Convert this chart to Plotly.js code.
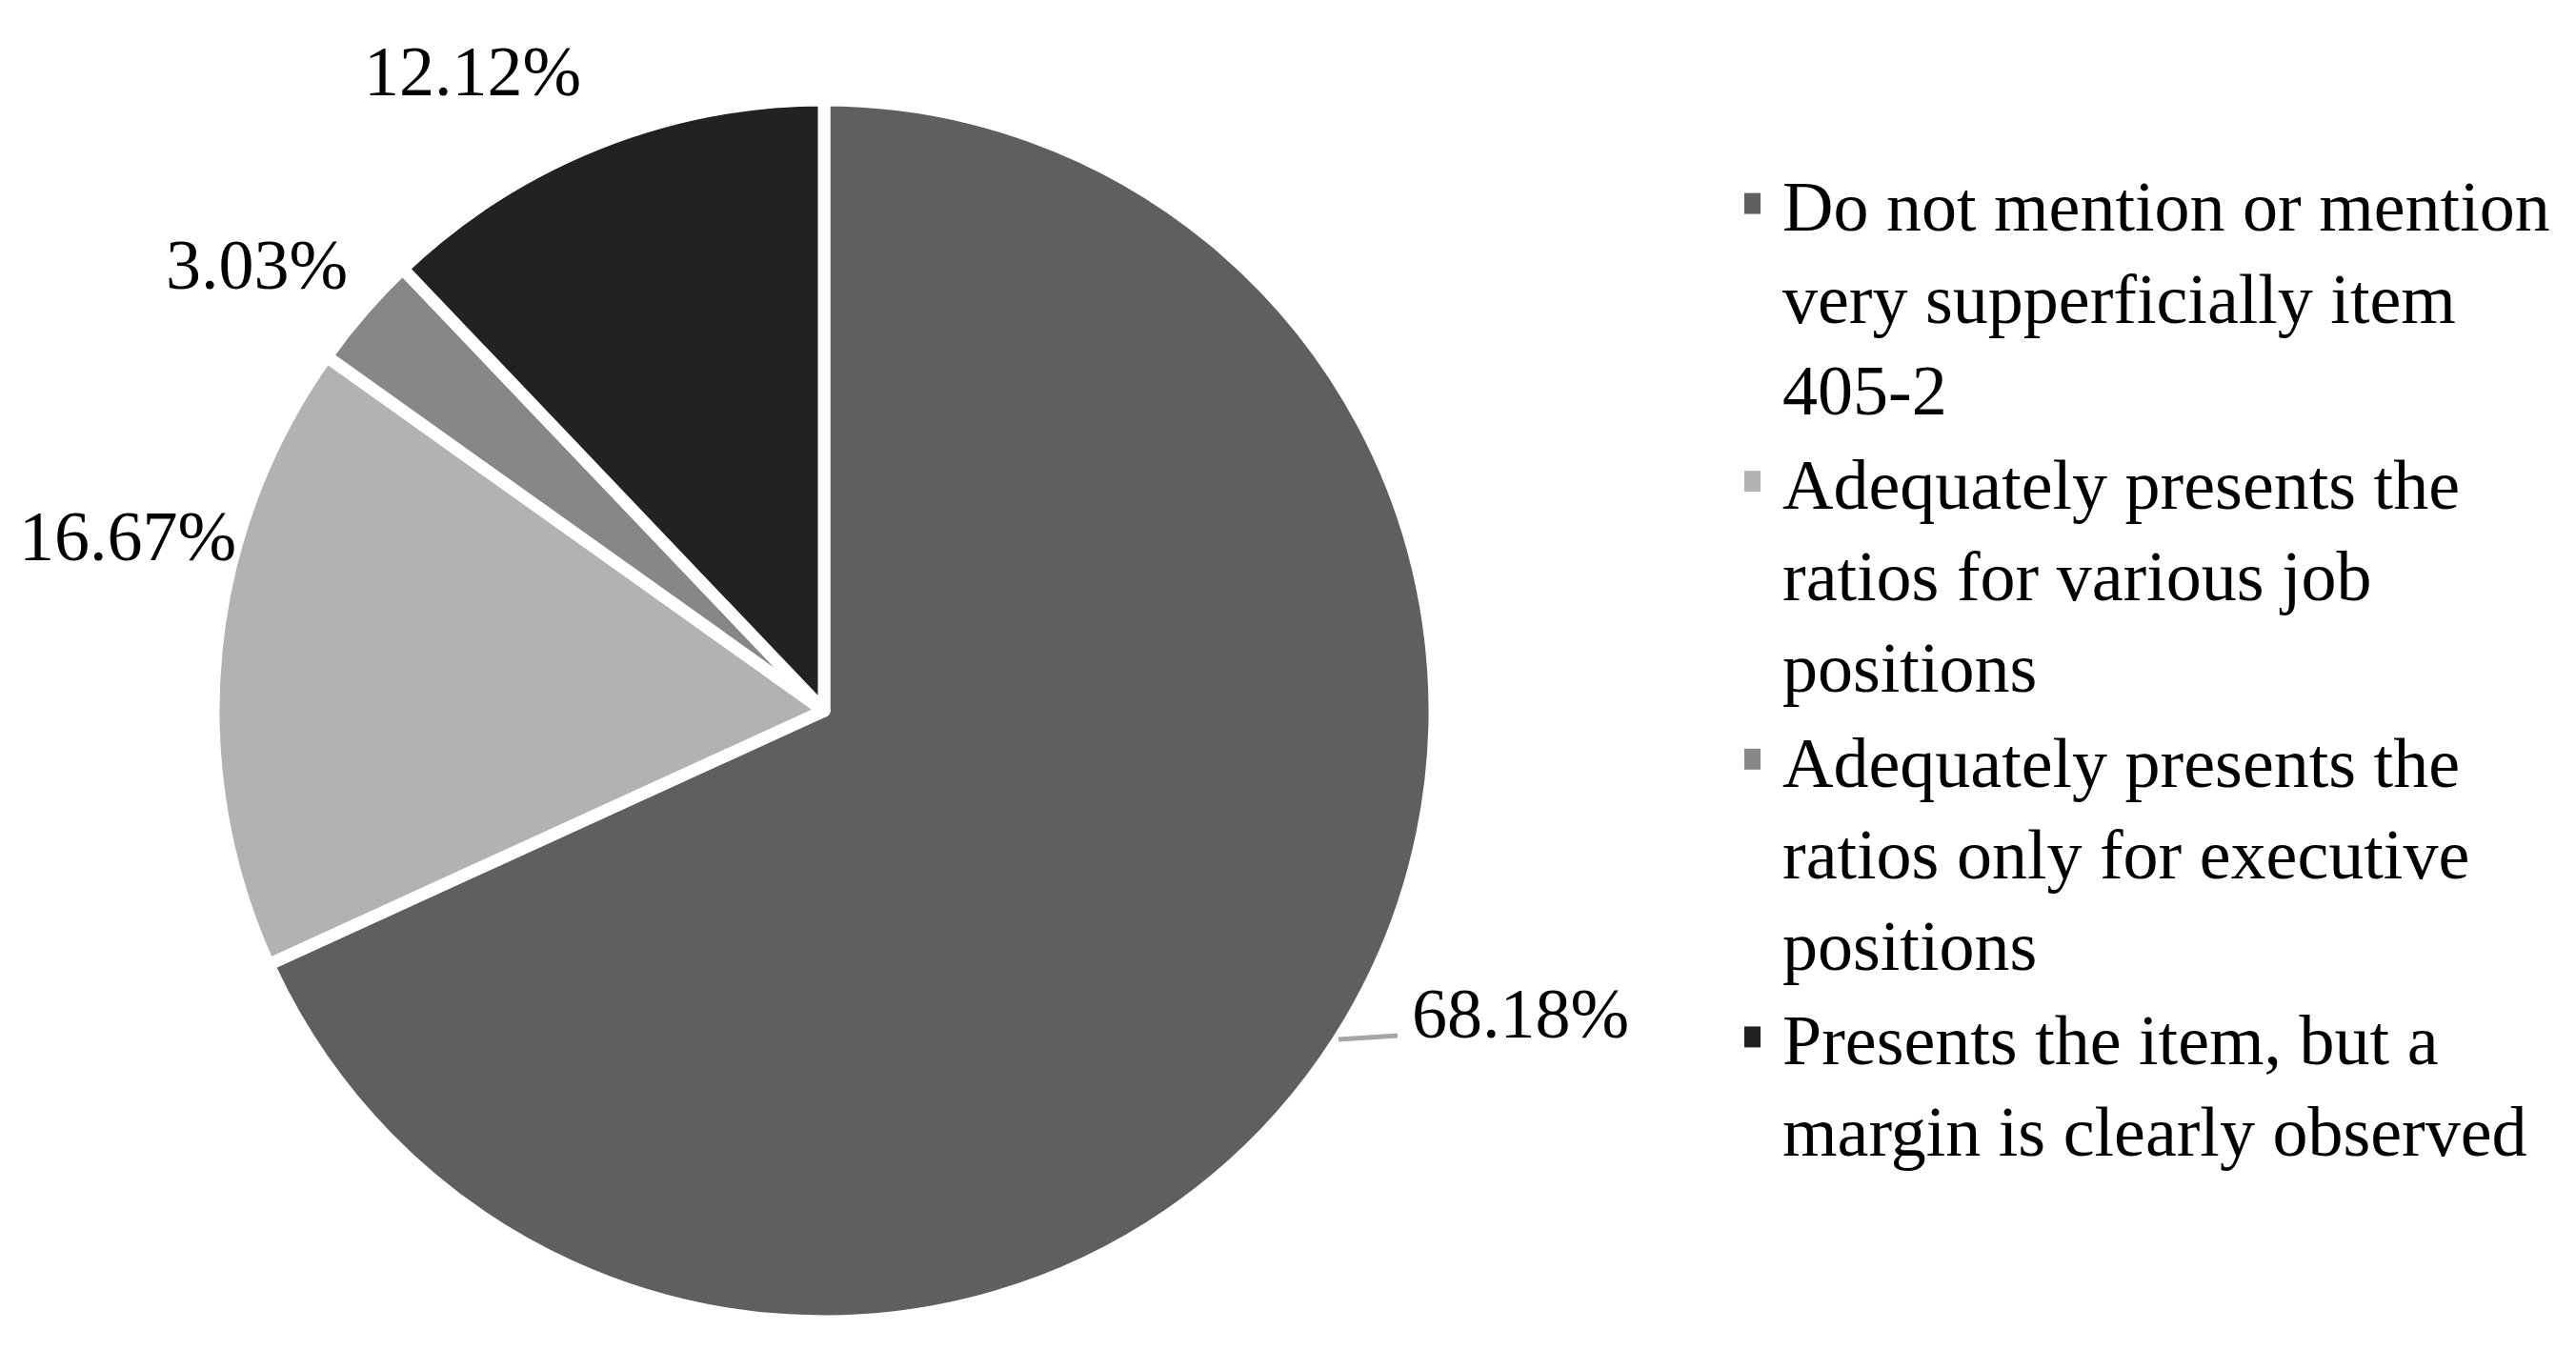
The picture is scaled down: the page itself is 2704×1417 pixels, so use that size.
<!DOCTYPE html>
<html>
<head>
<meta charset="utf-8">
<script src="https://cdn.plot.ly/plotly-3.0.1.min.js"></script>
<style>html,body{margin:0;padding:0;background:#fff;}#chart{width:2704px;height:1417px;}</style>
</head>
<body>
<div id="chart"></div>
<script>
const categories = [
  "Do not mention or mention<br>very supperficially item<br>405-2",
  "Adequately presents the<br>ratios for various job<br>positions",
  "Adequately presents the<br>ratios only for executive<br>positions",
  "Presents the item, but a<br>margin is clearly observed"
];
const shares = [68.18, 16.67, 3.03, 12.12];
const sliceColors = ["#5f5f5f", "#b2b2b2", "#878787", "#222222"];

const W = 2704, H = 1417;
const cx = 865, cy = 746, r = 641;
const FONT = "Liberation Serif, Times New Roman, serif";

// pixel centres of the outside percentage labels (layout only)
const labelPos = [[1596, 1064], [134, 563], [269, 278], [496, 75]];

const trace = {
  type: "pie",
  labels: categories,
  values: shares,
  sort: false,
  direction: "clockwise",
  rotation: 0,
  marker: { colors: sliceColors, line: { color: "#ffffff", width: 13 } },
  textinfo: "none",
  hoverinfo: "label+percent",
  domain: {
    x: [(cx - r) / W, (cx + r) / W],
    y: [(H - (cy + r)) / H, (H - (cy - r)) / H]
  }
};

const annotations = shares.map((v, i) => ({
  xref: "paper", yref: "paper",
  x: labelPos[i][0] / W, y: 1 - labelPos[i][1] / H,
  xanchor: "center", yanchor: "middle",
  text: v.toFixed(2) + "%",
  showarrow: false,
  font: { family: FONT, size: 74, color: "#000000" }
}));

const layout = {
  width: W, height: H,
  margin: { l: 0, r: 0, t: 0, b: 0 },
  paper_bgcolor: "#ffffff",
  font: { family: FONT, color: "#000000" },
  showlegend: true,
  annotations: annotations,
  shapes: [{
    type: "line", xref: "paper", yref: "paper",
    x0: 1405 / W, y0: 1 - 1091 / H, x1: 1467 / W, y1: 1 - 1087 / H,
    line: { color: "#a6a6a6", width: 5 }
  }],
  legend: {
    x: 1831 / W, xanchor: "left",
    y: 1 - 159 / H, yanchor: "top",
    font: { size: 74, color: "#000000", family: FONT },
    valign: "top",
    bgcolor: "rgba(0,0,0,0)",
    traceorder: "normal"
  }
};

Plotly.newPlot("chart", [trace], layout, { staticPlot: true, displayModeBar: false }).then(gd => {
  // enlarge legend swatches and drop the white slice-border stroke from them
  gd.querySelectorAll(".legend .legendpoints path").forEach(p => {
    p.style.strokeWidth = "0px";
    p.setAttribute("transform", "translate(6,0) scale(1.83)");
  });
});
</script>
</body>
</html>
